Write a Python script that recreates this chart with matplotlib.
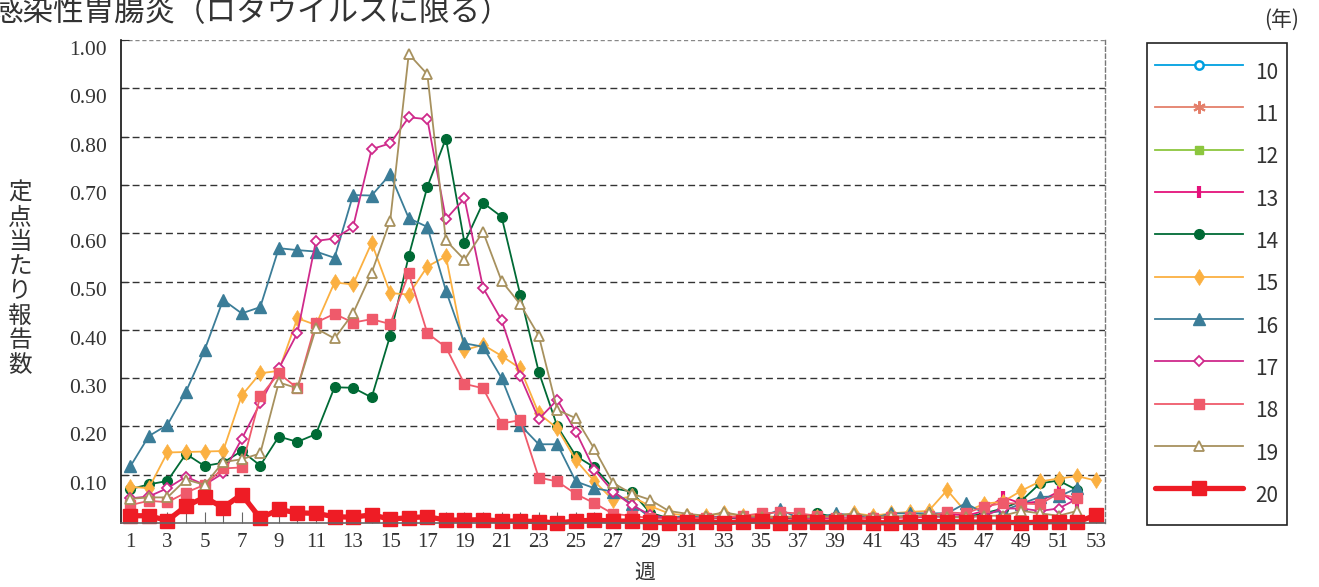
import matplotlib
matplotlib.use('Agg')
import matplotlib.pyplot as plt
import numpy as np
from matplotlib.transforms import ScaledTranslation

# ---------------- data ----------------
weeks = list(range(1, 54))
years = ['10', '11', '12', '13', '14', '15', '16', '17', '18', '19', '20']

y10 = []
y11 = []
y12 = []
y13 = [None] * 35 + [0.010, 0.010, 0.012, 0.010, 0.012, 0.010, 0.012, 0.012, 0.015, 0.020,
                     0.015, 0.025, 0.054, 0.040, 0.045, 0.065, 0.040]
y14 = [0.070, 0.080, 0.087, 0.143, 0.118, 0.125, 0.149, 0.119, 0.179, 0.168,
       0.184, 0.281, 0.280, 0.260, 0.388, 0.553, 0.696, 0.796, 0.580, 0.663,
       0.634, 0.473, 0.313, 0.200, 0.139, 0.115, 0.072, 0.065, 0.021, 0.010,
       0.012, 0.010, 0.010, 0.010, 0.012, 0.010, 0.010, 0.020, 0.012, 0.010,
       0.010, 0.012, 0.015, 0.015, 0.012, 0.012, 0.020, 0.030, 0.046, 0.082,
       0.088, 0.068]
y15 = [0.075, 0.072, 0.146, 0.147, 0.148, 0.149, 0.264, 0.310, 0.315, 0.424,
       0.410, 0.498, 0.494, 0.580, 0.476, 0.473, 0.531, 0.552, 0.358, 0.369,
       0.346, 0.320, 0.227, 0.196, 0.130, 0.086, 0.048, 0.055, 0.035, 0.020,
       0.015, 0.015, 0.020, 0.015, 0.015, 0.012, 0.015, 0.012, 0.015, 0.020,
       0.015, 0.020, 0.023, 0.025, 0.068, 0.023, 0.040, 0.044, 0.067, 0.086,
       0.092, 0.097, 0.088]
y16 = [0.117, 0.180, 0.203, 0.272, 0.358, 0.462, 0.434, 0.447, 0.569, 0.565,
       0.562, 0.549, 0.679, 0.678, 0.722, 0.631, 0.613, 0.481, 0.372, 0.365,
       0.300, 0.203, 0.163, 0.163, 0.086, 0.072, 0.065, 0.040, 0.012, 0.010,
       0.015, 0.010, 0.015, 0.010, 0.012, 0.028, 0.010, 0.010, 0.020, 0.015,
       0.010, 0.020, 0.020, 0.020, 0.020, 0.041, 0.020, 0.025, 0.040, 0.054,
       0.055, 0.072]
y17 = [0.051, 0.055, 0.072, 0.096, 0.079, 0.103, 0.174, 0.248, 0.320, 0.393,
       0.584, 0.589, 0.613, 0.774, 0.786, 0.840, 0.836, 0.629, 0.672, 0.487,
       0.420, 0.304, 0.215, 0.255, 0.189, 0.110, 0.065, 0.037, 0.017, 0.010,
       0.010, 0.010, 0.012, 0.010, 0.010, 0.012, 0.010, 0.010, 0.010, 0.012,
       0.010, 0.010, 0.012, 0.012, 0.015, 0.012, 0.015, 0.030, 0.030, 0.025,
       0.030, 0.050]
y18 = [0.037, 0.046, 0.043, 0.063, 0.079, 0.113, 0.115, 0.262, 0.310, 0.279,
       0.415, 0.433, 0.415, 0.422, 0.412, 0.517, 0.393, 0.364, 0.288, 0.279,
       0.206, 0.213, 0.094, 0.086, 0.060, 0.041, 0.019, 0.015, 0.010, 0.008,
       0.010, 0.010, 0.012, 0.015, 0.020, 0.022, 0.020, 0.015, 0.010, 0.010,
       0.010, 0.012, 0.012, 0.015, 0.022, 0.020, 0.034, 0.041, 0.040, 0.039,
       0.061, 0.051]
y19 = [0.050, 0.053, 0.053, 0.090, 0.079, 0.126, 0.132, 0.144, 0.291, 0.279,
       0.403, 0.382, 0.434, 0.518, 0.626, 0.971, 0.929, 0.585, 0.545, 0.603,
       0.501, 0.453, 0.388, 0.234, 0.217, 0.153, 0.083, 0.061, 0.048, 0.025,
       0.019, 0.015, 0.022, 0.015, 0.012, 0.012, 0.012, 0.012, 0.015, 0.020,
       0.012, 0.015, 0.012, 0.020, 0.012, 0.012, 0.015, 0.015, 0.025, 0.020,
       0.015, 0.025]
y20 = [0.015, 0.015, 0.005, 0.035, 0.053, 0.032, 0.059, 0.010, 0.028, 0.021,
       0.020, 0.013, 0.012, 0.017, 0.008, 0.011, 0.013, 0.006, 0.006, 0.007,
       0.004, 0.004, 0.003, 0.000, 0.004, 0.006, 0.004, 0.004, 0.002, 0.000,
       0.003, 0.003, 0.000, 0.003, 0.005, 0.001, 0.003, 0.002, 0.002, 0.003,
       0.001, 0.000, 0.003, 0.003, 0.003, 0.002, 0.002, 0.002, 0.000, 0.002,
       0.003, 0.002, 0.016]

series = [y10, y11, y12, y13, y14, y15, y16, y17, y18, y19, y20]

title = '感染性胃腸炎（ロタウイルスに限る）'
ylabel = '定点当たり報告数'
xlabel = '週'
yticks = [0.1, 0.2, 0.3, 0.4, 0.5, 0.6, 0.7, 0.8, 0.9, 1.0]

# ---------------- styles ----------------
styles = [
    dict(color='#00a0e0', marker='o', mfc='white', mec='#00a0e0', ms=6, mew=1.8, lw=1.3),
    dict(color='#e47f6a', marker=(6, 2, 0), mec='#e47f6a', ms=9, mew=1.5, lw=1.3),
    dict(color='#8cc63e', marker='s', mfc='#8cc63e', mec='#8cc63e', ms=6, lw=1.3),
    dict(color='#e4127b', marker='|', mec='#e4127b', ms=9, mew=3, lw=1.3),
    dict(color='#006a35', marker='o', mfc='#006a35', mec='#006a35', ms=7, lw=1.3),
    dict(color='#fbb041', marker='d', mfc='#fbb041', mec='#fbb041', ms=8, mew=0.5, lw=1.3),
    dict(color='#3b7d98', marker='^', mfc='#3b7d98', mec='#3b7d98', ms=8, lw=1.3),
    dict(color='#cf2a8b', marker='D', mfc='white', mec='#cf2a8b', ms=5.5, mew=1.3, lw=1.3),
    dict(color='#ef5a6b', marker='s', mfc='#ef5a6b', mec='#ef5a6b', ms=6.5, lw=1.3),
    dict(color='#a7915e', marker='^', mfc='white', mec='#a7915e', ms=7.5, mew=1.3, lw=1.3),
    dict(color='#ee1c25', marker='s', mfc='#ee1c25', mec='#ee1c25', ms=10.5, lw=3.8,
         solid_capstyle='round'),
]

W, H = 1319, 587
fig = plt.figure(figsize=(W / 100, H / 100), dpi=100)
ax = fig.add_axes([121 / W, 1 - 523 / H, (1105 - 121) / W, (523 - 40) / H])

handles = []
for lab, vals, st in zip(years, series, styles):
    v = np.array([np.nan if x is None else x for x in vals], dtype=float)
    x = weeks[:len(v)]
    ln, = ax.plot(x, v, clip_on=False, label=lab, **st)
    handles.append(ln)

ax.set_xlim(0.5, 53.5)
ax.set_ylim(0, 1.0)

serif = 'Liberation Serif'
ax.set_xticks(weeks)
ax.set_xticklabels([str(w) if w % 2 == 1 else '' for w in weeks],
                   fontfamily=serif, fontsize=15, color='#333333')
ax.set_yticks(yticks)
ax.set_yticklabels([f'{v:.2f}' for v in yticks], fontfamily=serif, fontsize=15.5,
                   color='#333333')
ax.tick_params(axis='x', direction='in', length=8, width=0.8, color='#666666', pad=7)
ax.tick_params(axis='y', direction='in', length=6, width=0.8, color='#333333', pad=10)
for lbl in ax.get_yticklabels():
    lbl.set_transform(lbl.get_transform() + ScaledTranslation(0, -0.08, fig.dpi_scale_trans))

ax.grid(axis='y', linestyle=(0, (5, 3)), color='#333333', linewidth=1.0)
gls = ax.get_ygridlines()
gls[-1].set_color('#888888')
gls[-1].set_linestyle((0, (3, 2)))
ax.set_axisbelow(True)

ax.spines['top'].set_visible(False)
ax.spines['right'].set_linestyle((0, (3, 2)))
ax.spines['right'].set_color('#777777')
ax.spines['right'].set_linewidth(1.0)
ax.spines['left'].set_color('#111111')
ax.spines['left'].set_linewidth(1.2)
ax.spines['bottom'].set_color('#666666')
ax.spines['bottom'].set_linewidth(1.2)

cjk = ['Noto Sans CJK JP', 'DejaVu Sans']

fig.text(-8 / W, 1 - 13 / H, title, family=cjk, fontsize=22, ha='left', va='center',
         color='#333333')
for i, ch in enumerate(ylabel):
    fig.text(20 / W, 1 - (193 + i * 24.6) / H, ch, family=cjk, fontsize=17,
             ha='center', va='center', color='#333333')
fig.text(645 / W, 1 - 573 / H, xlabel, family=cjk, fontsize=15, ha='center',
         va='center', color='#333333')
fig.text(1282 / W, 1 - 20 / H, '(年)', family=cjk, fontsize=15, ha='center',
         va='center', color='#333333')

leg = fig.legend(handles, years, loc='upper left', bbox_to_anchor=(1147 / W, 1 - 43 / H),
                 frameon=True, fancybox=False, edgecolor='#222222', framealpha=1,
                 prop={'family': cjk, 'size': 15}, handlelength=4.2, handleheight=2.75,
                 labelspacing=0.0, borderpad=0.4, handletextpad=0.6, borderaxespad=0,
                 numpoints=1)
leg.get_frame().set_linewidth(1.2)
for t in leg.get_texts():
    t.set_color('#333333')

fig.savefig('out.png', dpi=100)
